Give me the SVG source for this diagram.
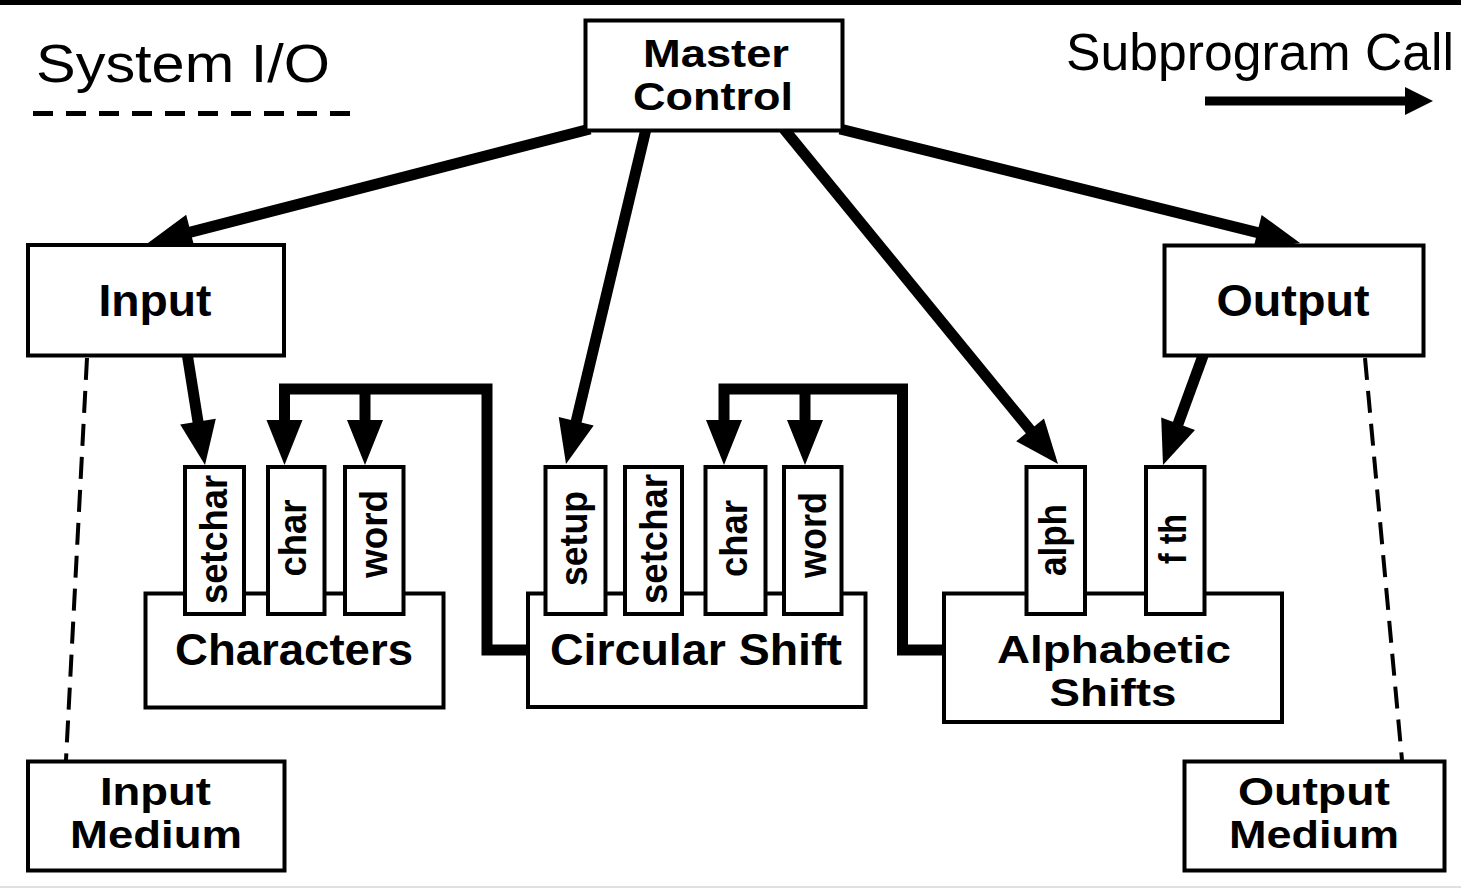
<svg xmlns="http://www.w3.org/2000/svg" width="1461" height="888" viewBox="0 0 1461 888">
<style>
.box{fill:#fff;stroke:#000;stroke-width:4}
.sub{fill:#fff;stroke:#000;stroke-width:4}
.lbl{font-family:"Liberation Sans",Arial,sans-serif;font-weight:bold;font-size:44px;text-anchor:middle;fill:#000}
.two{font-size:38.5px}
.rot{font-size:38px}
.leg{font-family:"Liberation Sans",Arial,sans-serif;font-size:54px;fill:#000}
.leg2{font-size:52px}
.conn{stroke:#000;stroke-width:11;fill:none}
.brk{stroke:#000;stroke-width:11;fill:none;stroke-linejoin:miter}
.head{fill:#000}
.io{stroke:#000;stroke-width:4;fill:none;stroke-dasharray:22 11}
</style>
<rect x="0" y="0" width="1461" height="888" fill="#fff"/>
<rect x="0" y="0" width="1461" height="5" fill="#000"/>
<rect x="0" y="886" width="1461" height="2" fill="#e0e0e0"/>

<g id="legend">
  <text class="leg" x="36" y="82" textLength="294" lengthAdjust="spacingAndGlyphs">System I/O</text>
  <line x1="33" y1="113.5" x2="352" y2="113.5" stroke="#000" stroke-width="5" stroke-dasharray="20 13"/>
  <text class="leg leg2" x="1066" y="70" textLength="388" lengthAdjust="spacingAndGlyphs">Subprogram Call</text>
  <line x1="1205" y1="101" x2="1410" y2="101" stroke="#000" stroke-width="9"/>
  <polygon class="head" points="1405,87 1433,101 1405,115"/>
</g>

<g id="connectors">
  <line class="conn" x1="590" y1="129" x2="177" y2="235.6"/>
  <polygon class="head" points="148,243 186.2,214.7 195,249.5"/>
  <line class="conn" x1="646" y1="129" x2="573" y2="434.8"/>
  <polygon class="head" points="566,464 558.7,417 593.7,425.4"/>
  <line class="conn" x1="784" y1="129" x2="1039" y2="440.8"/>
  <polygon class="head" points="1058,464 1016.2,441.3 1044,418.5"/>
  <line class="conn" x1="840" y1="129" x2="1270.9" y2="235.8"/>
  <polygon class="head" points="1300,243 1253,249.9 1261.6,214.9"/>
  <line class="conn" x1="187" y1="353" x2="200.2" y2="435.4"/>
  <polygon class="head" points="205,465 180.2,424.4 215.8,418.7"/>
  <line class="conn" x1="1204" y1="353" x2="1173.3" y2="436.8"/>
  <polygon class="head" points="1163,465 1161.2,417.5 1195,429.9"/>
  <path class="brk" d="M530,650 H487 V389 H284.5 V440 M365,389 V440"/>
  <polygon class="head" points="266.5,420 302.5,420 284.5,465"/>
  <polygon class="head" points="347,420 383,420 365,465"/>
  <path class="brk" d="M944,650 H902.5 V389 H724 V440 M805,389 V440"/>
  <polygon class="head" points="706,420 742,420 724,465"/>
  <polygon class="head" points="787,420 823,420 805,465"/>
  <path class="io" d="M87,358 L66,760"/>
  <path class="io" d="M1365,358 L1402,760"/>
</g>

<g id="master-control">
  <rect class="box" x="585.5" y="20.5" width="257" height="110" stroke-width="5"/>
  <text class="lbl two" x="716" y="67" textLength="146" lengthAdjust="spacingAndGlyphs">Master</text>
  <text class="lbl two" x="713" y="110" textLength="160" lengthAdjust="spacingAndGlyphs">Control</text>
</g>

<g id="input">
  <rect class="box" x="28" y="245" width="256" height="110.5" stroke-width="5"/>
  <text class="lbl" x="155" y="316" textLength="113" lengthAdjust="spacingAndGlyphs">Input</text>
</g>

<g id="output">
  <rect class="box" x="1164.5" y="245.5" width="259" height="110" stroke-width="5"/>
  <text class="lbl" x="1293" y="316" textLength="153" lengthAdjust="spacingAndGlyphs">Output</text>
</g>

<g id="characters">
  <rect class="box" x="145.5" y="593.5" width="298" height="114" stroke-width="3.5"/>
  <text class="lbl" x="294" y="665" textLength="238" lengthAdjust="spacingAndGlyphs">Characters</text>
  <g id="characters-setchar">
    <rect class="sub" x="185" y="467" width="59" height="147"/>
    <text class="lbl rot" transform="translate(227,539.5) rotate(-90)" textLength="129" lengthAdjust="spacingAndGlyphs">setchar</text>
  </g>
  <g id="characters-char">
    <rect class="sub" x="268" y="467" width="56.5" height="147"/>
    <text class="lbl rot" transform="translate(306,538) rotate(-90)" textLength="77" lengthAdjust="spacingAndGlyphs">char</text>
  </g>
  <g id="characters-word">
    <rect class="sub" x="345" y="467" width="58.5" height="147"/>
    <text class="lbl rot" transform="translate(387,534) rotate(-90)" textLength="88" lengthAdjust="spacingAndGlyphs">word</text>
  </g>
</g>

<g id="circular-shift">
  <rect class="box" x="528" y="593.5" width="337.5" height="113.5" stroke-width="3.5"/>
  <text class="lbl" x="696" y="665" textLength="292" lengthAdjust="spacingAndGlyphs">Circular Shift</text>
  <g id="cs-setup">
    <rect class="sub" x="545.5" y="467" width="60" height="147"/>
    <text class="lbl rot" transform="translate(587,538.5) rotate(-90)" textLength="95" lengthAdjust="spacingAndGlyphs">setup</text>
  </g>
  <g id="cs-setchar">
    <rect class="sub" x="625" y="467" width="57" height="147"/>
    <text class="lbl rot" transform="translate(667,539) rotate(-90)" textLength="130" lengthAdjust="spacingAndGlyphs">setchar</text>
  </g>
  <g id="cs-char">
    <rect class="sub" x="705.5" y="467" width="60" height="147"/>
    <text class="lbl rot" transform="translate(747,538.5) rotate(-90)" textLength="77" lengthAdjust="spacingAndGlyphs">char</text>
  </g>
  <g id="cs-word">
    <rect class="sub" x="784" y="467" width="57.5" height="147"/>
    <text class="lbl rot" transform="translate(826,535) rotate(-90)" textLength="86" lengthAdjust="spacingAndGlyphs">word</text>
  </g>
</g>

<g id="alphabetic-shifts">
  <rect class="box" x="944" y="593.5" width="338" height="128.5" stroke-width="3.5"/>
  <text class="lbl two" x="1114" y="663" textLength="234" lengthAdjust="spacingAndGlyphs">Alphabetic</text>
  <text class="lbl two" x="1113" y="706" textLength="127" lengthAdjust="spacingAndGlyphs">Shifts</text>
  <g id="as-alph">
    <rect class="sub" x="1026.5" y="467" width="58.5" height="147"/>
    <text class="lbl rot" transform="translate(1066,540) rotate(-90)" textLength="72" lengthAdjust="spacingAndGlyphs">alph</text>
  </g>
  <g id="as-fth">
    <rect class="sub" x="1146" y="467" width="58.5" height="147"/>
    <text class="lbl rot" transform="translate(1186,539) rotate(-90)" textLength="50" lengthAdjust="spacingAndGlyphs">f th</text>
  </g>
</g>

<g id="input-medium">
  <rect class="box" x="28" y="761.5" width="256.5" height="109" stroke-width="5"/>
  <text class="lbl two" x="155.5" y="805" textLength="111" lengthAdjust="spacingAndGlyphs">Input</text>
  <text class="lbl two" x="156" y="848" textLength="172" lengthAdjust="spacingAndGlyphs">Medium</text>
</g>

<g id="output-medium">
  <rect class="box" x="1184.5" y="761.5" width="260" height="109" stroke-width="5"/>
  <text class="lbl two" x="1314" y="805" textLength="152" lengthAdjust="spacingAndGlyphs">Output</text>
  <text class="lbl two" x="1314" y="848" textLength="170" lengthAdjust="spacingAndGlyphs">Medium</text>
</g>
</svg>
